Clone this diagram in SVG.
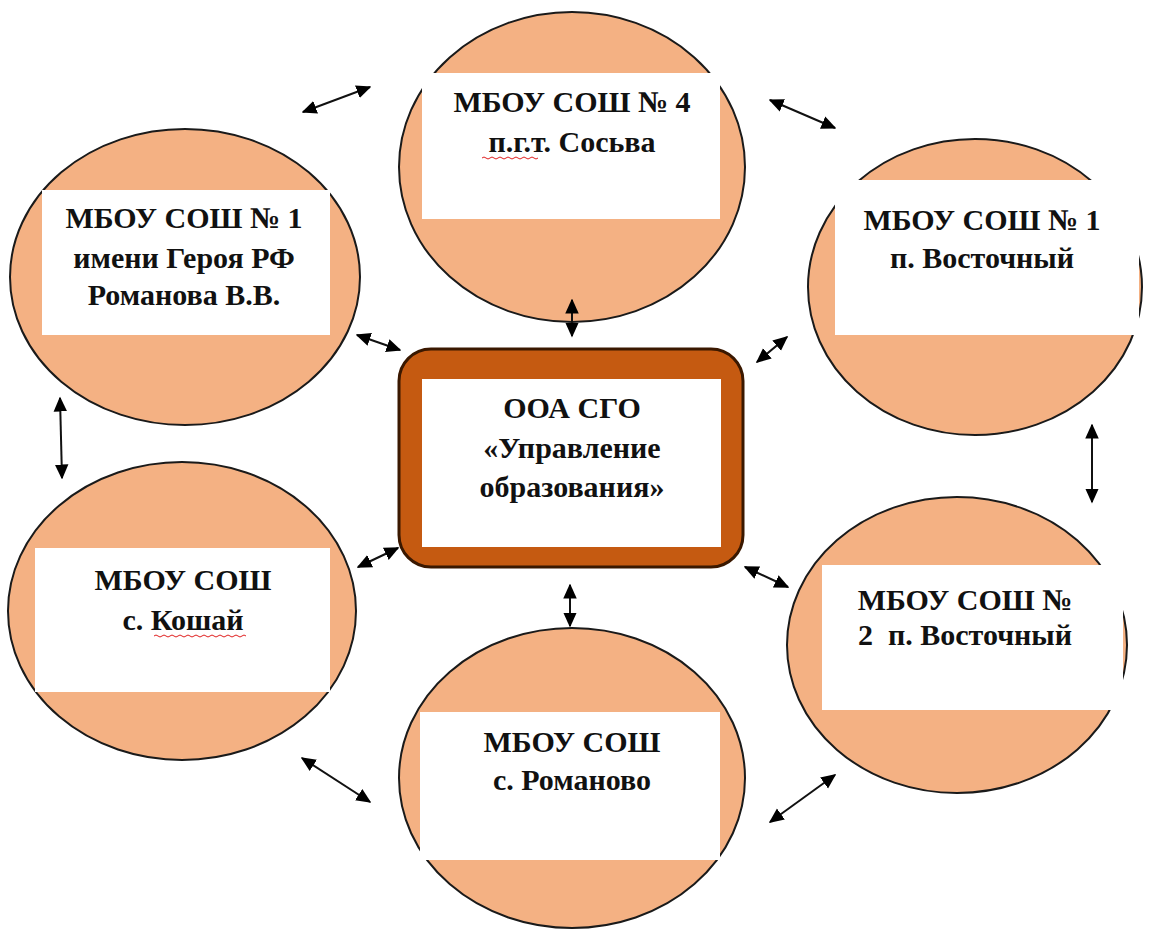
<svg xmlns="http://www.w3.org/2000/svg" width="1155" height="934" viewBox="0 0 1155 934">
<defs>
<marker id="ah" viewBox="0 0 10 10" refX="9" refY="5" markerWidth="15" markerHeight="15" orient="auto-start-reverse" markerUnits="userSpaceOnUse">
<path d="M0,0.5 L10,5 L0,9.5 z" fill="#000"/>
</marker>
</defs>
<style>
.c{fill:#f4b183;stroke:#1a1a1a;stroke-width:2}
.w{fill:#fff}
.t{font-family:"Liberation Serif","Times New Roman",serif;font-weight:bold;font-size:30px;fill:#111;text-anchor:middle}
.a{stroke:#111;stroke-width:2;fill:none;marker-start:url(#ah);marker-end:url(#ah)}
.sq{stroke:#e02020;stroke-width:1;fill:none}
</style>
<rect width="1155" height="934" fill="#fff"/>
<g id="n-top">
<ellipse class="c" cx="572" cy="167" rx="173" ry="155"/>
<rect class="w" x="422" y="73" width="298" height="146"/>
<text class="t" x="572" y="112">МБОУ СОШ № 4</text>
<text class="t" x="572" y="152">п.г.т. Сосьва</text>
<path class="sq" d="M482,158 q2,-2 4,0 t4,0 t4,0 t4,0 t4,0 t4,0 t4,0 t4,0 t4,0 t4,0 t4,0 t4,0 t4,0 t4,0"/>
</g>
<g id="n-tl">
<ellipse class="c" cx="185" cy="277" rx="175" ry="148"/>
<rect class="w" x="42" y="190" width="288" height="145"/>
<text class="t" x="184" y="228">МБОУ СОШ № 1</text>
<text class="t" x="184" y="268">имени Героя РФ</text>
<text class="t" x="184" y="305">Романова В.В.</text>
</g>
<g id="n-tr">
<ellipse class="c" cx="975" cy="287" rx="167" ry="148"/>
<rect class="w" x="835" y="180" width="304" height="155"/>
<text class="t" x="982" y="230">МБОУ СОШ № 1</text>
<text class="t" x="982" y="268">п. Восточный</text>
</g>
<g id="n-ml">
<ellipse class="c" cx="182" cy="611" rx="174" ry="149"/>
<rect class="w" x="35" y="548" width="295" height="144"/>
<text class="t" x="183" y="590">МБОУ СОШ</text>
<text class="t" x="183" y="630">с. Кошай</text>
<path class="sq" d="M154,636 q2,-2 4,0 t4,0 t4,0 t4,0 t4,0 t4,0 t4,0 t4,0 t4,0 t4,0 t4,0 t4,0 t4,0 t4,0 t4,0 t4,0 t4,0 t4,0 t4,0 t4,0 t4,0 t4,0 t4,0"/>
</g>
<g id="n-mr">
<ellipse class="c" cx="957" cy="645" rx="170" ry="148"/>
<rect class="w" x="822" y="565" width="301" height="145"/>
<text class="t" x="965" y="610">МБОУ СОШ №</text>
<text class="t" x="965" y="645" xml:space="preserve">2  п. Восточный</text>
</g>
<g id="n-bot">
<ellipse class="c" cx="572" cy="778" rx="173" ry="150"/>
<rect class="w" x="420" y="712" width="300" height="148"/>
<text class="t" x="572" y="752">МБОУ СОШ</text>
<text class="t" x="572" y="790">с. Романово</text>
</g>
<g id="n-center">
<rect x="399" y="349" width="344" height="218" rx="32" ry="32" fill="#c55a11" stroke="#3a1800" stroke-width="3"/>
<rect class="w" x="422" y="379" width="299" height="168"/>
<text class="t" x="572" y="418">ООА СГО</text>
<text class="t" x="572" y="458">«Управление</text>
<text class="t" x="572" y="497">образования»</text>
</g>
<g id="connectors">
<line class="a" x1="303" y1="112" x2="370" y2="87"/>
<line class="a" x1="770" y1="100" x2="835" y2="128"/>
<line class="a" x1="572" y1="300" x2="572" y2="336"/>
<line class="a" x1="357" y1="335" x2="400" y2="350"/>
<line class="a" x1="757" y1="362" x2="787" y2="337"/>
<line class="a" x1="60" y1="398" x2="62" y2="478"/>
<line class="a" x1="1092" y1="425" x2="1092" y2="502"/>
<line class="a" x1="358" y1="567" x2="398" y2="548"/>
<line class="a" x1="745" y1="567" x2="788" y2="587"/>
<line class="a" x1="570" y1="585" x2="570" y2="626"/>
<line class="a" x1="302" y1="758" x2="370" y2="802"/>
<line class="a" x1="770" y1="822" x2="835" y2="775"/>
</g>
</svg>
